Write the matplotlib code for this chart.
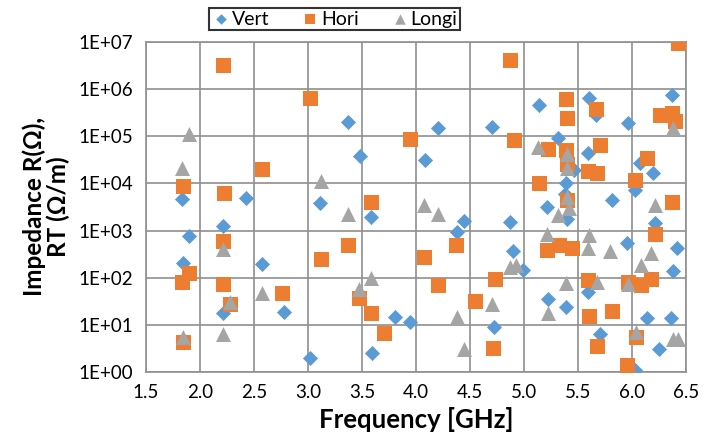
import matplotlib.pyplot as plt
from matplotlib.ticker import FixedLocator

plt.rcParams['font.family'] = ['Lato', 'DejaVu Sans']

# Vert series (GHz, impedance)
vert_f = [1.83, 1.84, 1.90, 2.21, 2.21, 2.43, 2.57, 2.78, 3.02, 3.11,
          3.37, 3.48, 3.58, 3.59, 3.81, 3.94, 4.08, 4.20, 4.38, 4.44,
          4.70, 4.72, 4.87, 4.90, 4.99, 5.14, 5.21, 5.22, 5.31, 5.39,
          5.46, 5.38, 5.40, 5.39, 5.59, 5.60, 5.59, 5.67, 5.96, 6.37,
          6.07, 6.19, 6.03, 5.81, 6.21, 5.95, 6.42, 6.38, 6.14, 6.36,
          5.70, 6.25, 6.03]
vert_z = [4.6e3, 210, 760, 1250, 18, 4.8e3, 195, 19, 2.0, 3.9e3,
          2e5, 3.8e4, 1.9e3, 2.5, 15, 11.5, 3.2e4, 1.5e5, 930, 1.6e3,
          1.6e5, 9, 1.5e3, 360, 145, 4.6e5, 3.2e3, 36, 9.2e4, 1e4,
          1.9e4, 6e3, 1.8e3, 24, 50, 6.5e5, 4.4e4, 2.8e5, 1.9e5, 7.5e5,
          2.7e4, 1.7e4, 7.2e3, 4.4e3, 1.45e3, 550, 430, 138, 14, 14,
          6.3, 3.1, 1.1]

# Hori series
hori_f = [2.21, 3.02, 2.57, 1.84, 2.22, 4.87, 3.94, 4.91, 3.58, 6.43,
          5.39, 5.40, 5.67, 6.26, 6.37, 6.40, 5.22, 5.39, 5.40, 5.70,
          5.59, 5.68, 6.14, 6.03, 5.14, 6.37, 5.40, 2.21, 1.90, 1.83,
          2.21, 2.28, 2.76, 3.12, 1.84, 3.37, 4.07, 4.37, 3.47, 3.58,
          3.70, 4.20, 4.55, 4.73, 4.71, 5.59, 5.60, 5.81, 5.68, 5.21,
          5.32, 5.44, 5.96, 6.08, 6.18, 6.21, 6.04, 5.95]
hori_z = [3.2e6, 6.5e5, 2e4, 8.9e3, 6.3e3, 4.2e6, 8.7e4, 8.3e4, 4e3, 9.5e6,
          6.2e5, 2.4e5, 3.8e5, 2.8e5, 3.1e5, 2.1e5, 5.4e4, 5e4, 2.6e4, 6.6e4,
          1.8e4, 1.7e4, 3.4e4, 1.2e4, 1e4, 4e3, 4.5e3, 600, 125, 80,
          72, 28, 47, 245, 4.3, 490, 270, 490, 37, 18,
          6.7, 70, 32, 95, 3.2, 90, 15.5, 19.5, 3.5, 390,
          490, 430, 81, 70, 94, 850, 5.5, 1.4]

# Longi series
longi_f = [1.90, 1.83, 3.12, 3.37, 4.07, 4.20, 3.58, 3.47, 4.38, 4.44,
           4.70, 4.87, 4.93, 2.21, 2.28, 2.57, 2.21, 1.84, 5.13, 5.40,
           5.40, 5.40, 5.42, 5.31, 6.21, 6.38, 5.21, 5.60, 5.59, 5.80,
           6.18, 6.08, 5.39, 5.68, 5.96, 5.22, 6.04, 6.38, 6.43]
longi_z = [1.1e5, 2.1e4, 1.15e4, 2.2e3, 3.5e3, 2.2e3, 100, 58, 15, 3.1,
           28, 170, 190, 410, 30, 47, 6.4, 5.5, 5.9e4, 4.2e4,
           2.1e4, 5.2e3, 3e3, 2.1e3, 3.5e3, 1.5e5, 850, 810, 430, 370,
           330, 190, 78, 81, 74, 18, 7, 5, 5]

x_ticks = [1.5, 2.0, 2.5, 3.0, 3.5, 4.0, 4.5, 5.0, 5.5, 6.0, 6.5]
y_ticks = [1e0, 1e1, 1e2, 1e3, 1e4, 1e5, 1e6, 1e7]
y_labels = ["1E+00", "1E+01", "1E+02", "1E+03", "1E+04", "1E+05", "1E+06", "1E+07"]

grid_color = "#8f8f8f"

fig = plt.figure(figsize=(7.05, 4.42), dpi=100)
ax = fig.add_axes([0.2071, 0.1584, 0.7660, 0.7466])

ax.scatter(vert_f, vert_z, marker="D", s=7.7**2, color="#5B9BD5", linewidths=0, label="Vert", zorder=3)
ax.scatter(hori_f, hori_z, marker="s", s=10.8**2, color="#ED7D31", linewidths=0, label="Hori", zorder=4)
ax.scatter(longi_f, longi_z, marker="^", s=10.8**2, color="#A5A5A5", linewidths=0, label="Longi", zorder=5)

ax.set_yscale("log")
ax.set_xlim(1.5, 6.5)
ax.set_ylim(1, 1e7)
ax.xaxis.set_major_locator(FixedLocator(x_ticks))
ax.set_xticklabels([f"{t:.1f}" for t in x_ticks])
ax.yaxis.set_major_locator(FixedLocator(y_ticks))
ax.set_yticklabels(y_labels)
ax.minorticks_off()
ax.tick_params(axis="both", length=0, labelsize=13.5)
ax.tick_params(axis="x", pad=9)
ax.tick_params(axis="y", pad=9)

ax.grid(color=grid_color, linewidth=1.2, zorder=0)
ax.set_axisbelow(True)
for sp in ax.spines.values():
    sp.set_color(grid_color)
    sp.set_linewidth(1.2)

ax.set_xlabel("Frequency [GHz]", fontsize=18.5, fontweight="bold", labelpad=4)
ax.set_ylabel("Impedance R(Ω),\nRT (Ω/m)", fontsize=17.5, fontweight="bold", labelpad=6,
              linespacing=1.05)

leg = fig.legend(loc="center", bbox_to_anchor=(0.4745, 0.957), ncol=3, fontsize=14,
                 frameon=True, fancybox=False, edgecolor="black", handletextpad=0.05,
                 handlelength=1.0, columnspacing=1.6, borderpad=0.15, markerscale=0.7)
leg.get_frame().set_linewidth(1.5)

plt.savefig("out.png", dpi=100)
